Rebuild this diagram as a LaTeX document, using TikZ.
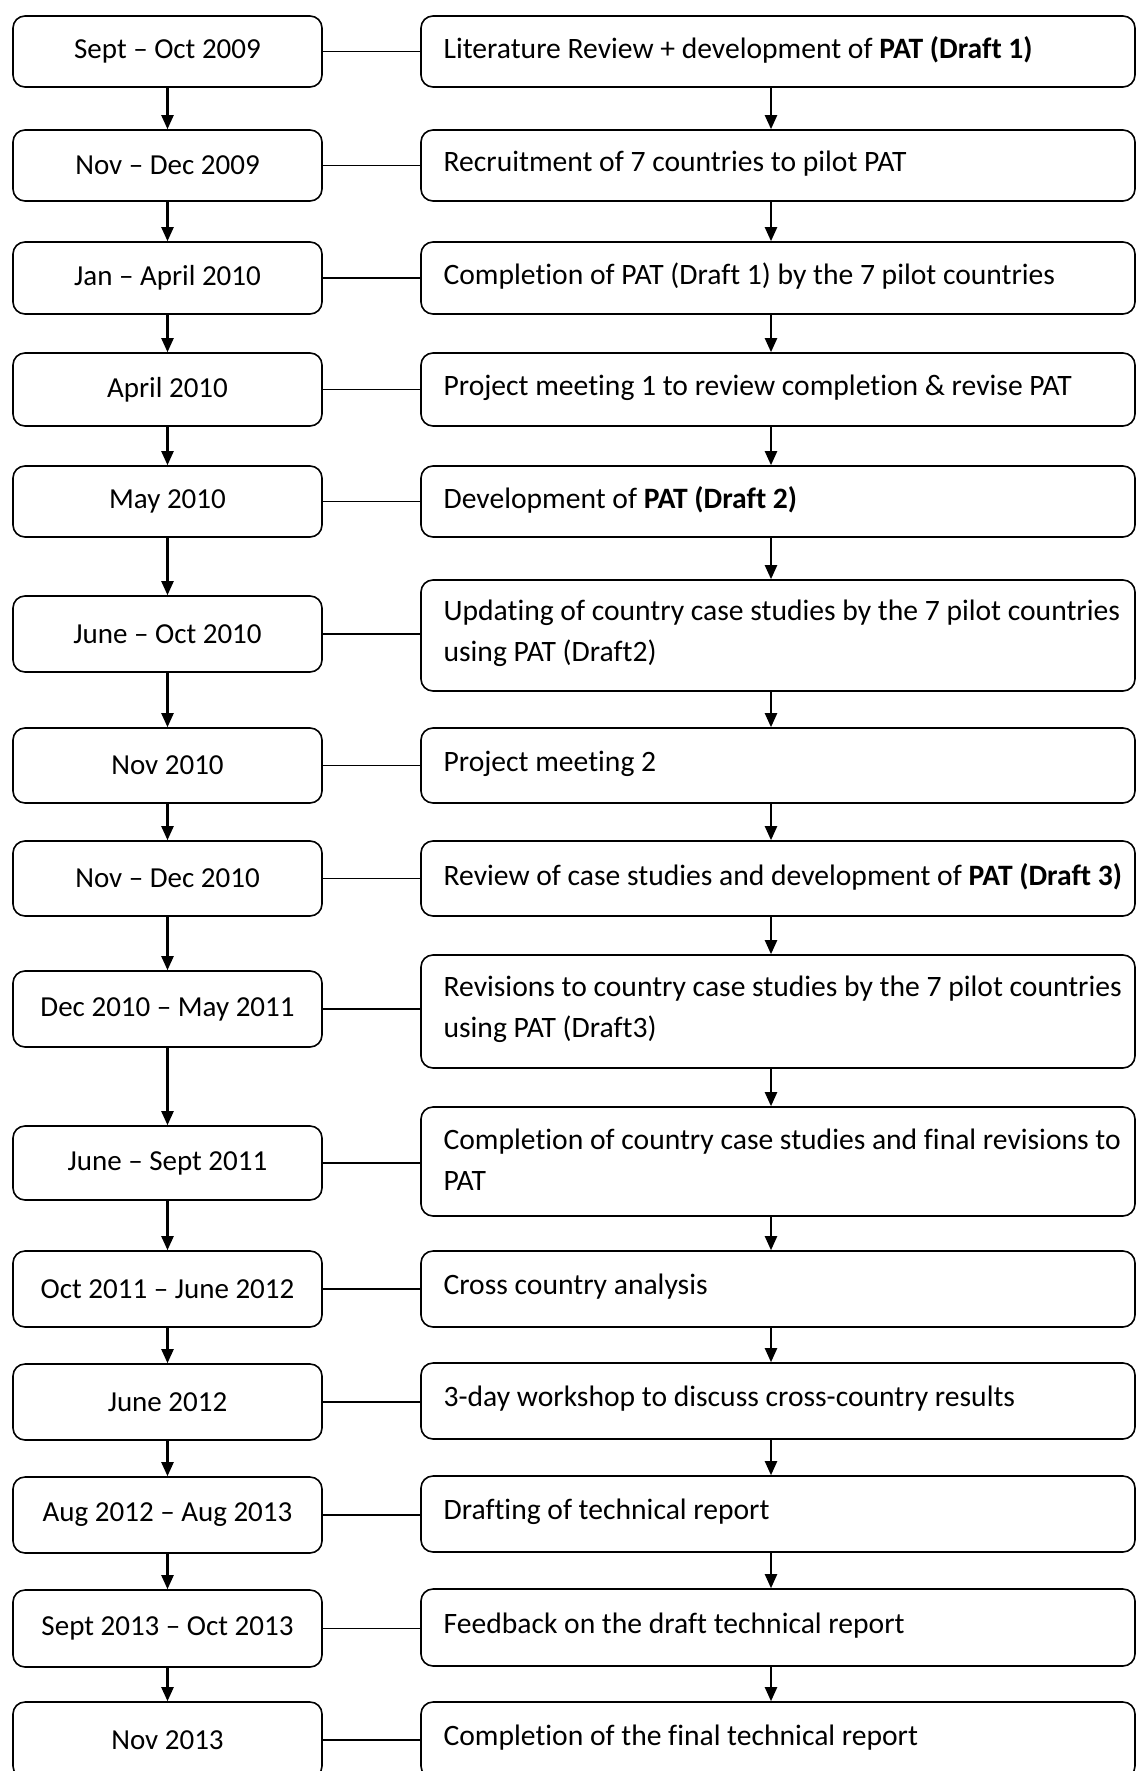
\documentclass[tikz,border=0pt]{standalone}
\usepackage{fontspec}
\setmainfont{Carlito}[Ligatures={NoCommon}]
\usetikzlibrary{arrows.meta}
\begin{document}
\begin{tikzpicture}[x=0.5pt,y=-0.5pt,
  lbox/.style={draw, line width=0.8pt, rounded corners=6pt, inner sep=0pt, minimum width=154.5pt, font=\fontsize{14.5}{20.3}\selectfont},
  rbox/.style={draw, line width=0.8pt, rounded corners=6pt, inner sep=0pt, minimum width=357pt},
  rtext/.style={anchor=west, align=left, inner sep=0pt, font=\fontsize{14.8}{20.4}\selectfont},
  link/.style={line width=0.85pt},
  flow/.style={line width=1.1pt, -{Triangle[width=6pt,length=7pt]}}]
\clip (0,0) rectangle (1136,1771);
\fill[white] (0,0) rectangle (1136,1771);
\coordinate (ax) at (771,0);
% left column
\node[lbox, minimum height=35.5pt] (l1) at (167.5,51.5) {Sept – Oct 2009};
\node[lbox, minimum height=35.5pt] (l2) at (167.5,165.5) {Nov – Dec 2009};
\node[lbox, minimum height=36pt] (l3) at (167.5,278) {Jan – April 2010};
\node[lbox, minimum height=36.5pt] (l4) at (167.5,389.5) {April 2010};
\node[lbox, minimum height=35.5pt] (l5) at (167.5,501.5) {May 2010};
\node[lbox, minimum height=38pt] (l6) at (167.5,634) {June – Oct 2010};
\node[lbox, minimum height=37.5pt] (l7) at (167.5,765.5) {Nov 2010};
\node[lbox, minimum height=37.5pt] (l8) at (167.5,878.5) {Nov – Dec 2010};
\node[lbox, minimum height=38pt] (l9) at (167.5,1009) {Dec 2010 – May 2011};
\node[lbox, minimum height=37pt] (l10) at (167.5,1163) {June – Sept 2011};
\node[lbox, minimum height=38pt] (l11) at (167.5,1289) {Oct 2011 – June 2012};
\node[lbox, minimum height=38pt] (l12) at (167.5,1402) {June 2012};
\node[lbox, minimum height=38pt] (l13) at (167.5,1515) {Aug 2012 – Aug 2013};
\node[lbox, minimum height=38.5pt] (l14) at (167.5,1628.5) {Sept 2013 – Oct 2013};
\node[lbox, minimum height=38pt] (l15) at (167.5,1740) {Nov 2013};
% right column boxes
\node[rbox, minimum height=35.5pt] (r1) at (778,51.5) {};
\node[rbox, minimum height=35.5pt] (r2) at (778,165.5) {};
\node[rbox, minimum height=36pt] (r3) at (778,278) {};
\node[rbox, minimum height=36.5pt] (r4) at (778,389.5) {};
\node[rbox, minimum height=35.5pt] (r5) at (778,501.5) {};
\node[rbox, minimum height=55.5pt] (r6) at (778,635.5) {};
\node[rbox, minimum height=37.5pt] (r7) at (778,765.5) {};
\node[rbox, minimum height=37.5pt] (r8) at (778,878.5) {};
\node[rbox, minimum height=56.5pt] (r9) at (778,1011.5) {};
\node[rbox, minimum height=54.5pt] (r10) at (778,1161.5) {};
\node[rbox, minimum height=38pt] (r11) at (778,1289) {};
\node[rbox, minimum height=38pt] (r12) at (778,1401) {};
\node[rbox, minimum height=38pt] (r13) at (778,1514) {};
\node[rbox, minimum height=38.5pt] (r14) at (778,1627.5) {};
\node[rbox, minimum height=38pt] (r15) at (778,1740) {};
% right column texts
\node[rtext] (t1) at ([xshift=11.5pt,yshift=1pt]r1.west) {Literature Review + development of \textbf{PAT (Draft 1)}};
\node[rtext] (t2) at ([xshift=11.5pt,yshift=1pt]r2.west) {Recruitment of 7 countries to pilot PAT};
\node[rtext] (t3) at ([xshift=11.5pt,yshift=1pt]r3.west) {Completion of PAT (Draft 1) by the 7 pilot countries};
\node[rtext] (t4) at ([xshift=11.5pt,yshift=1pt]r4.west) {Project meeting 1 to review completion \& revise PAT};
\node[rtext] (t5) at ([xshift=11.5pt,yshift=1pt]r5.west) {Development of \textbf{PAT (Draft 2)}};
\node[rtext] (t6) at ([xshift=11.5pt,yshift=1pt]r6.west) {Updating of country case studies by the 7 pilot countries\\using PAT (Draft2)};
\node[rtext] (t7) at ([xshift=11.5pt,yshift=1pt]r7.west) {Project meeting 2};
\node[rtext] (t8) at ([xshift=11.5pt,yshift=1pt]r8.west) {Review of case studies and development of \textbf{PAT (Draft 3)}};
\node[rtext] (t9) at ([xshift=11.5pt,yshift=1pt]r9.west) {Revisions to country case studies by the 7 pilot countries\\using PAT (Draft3)};
\node[rtext] (t10) at ([xshift=11.5pt,yshift=1pt]r10.west) {Completion of country case studies and final revisions to\\PAT};
\node[rtext] (t11) at ([xshift=11.5pt,yshift=1pt]r11.west) {Cross country analysis};
\node[rtext] (t12) at ([xshift=11.5pt,yshift=1pt]r12.west) {3-day workshop to discuss cross-country results};
\node[rtext] (t13) at ([xshift=11.5pt,yshift=1pt]r13.west) {Drafting of technical report};
\node[rtext] (t14) at ([xshift=11.5pt,yshift=1pt]r14.west) {Feedback on the draft technical report};
\node[rtext] (t15) at ([xshift=11.5pt,yshift=1pt]r15.west) {Completion of the final technical report};
% horizontal links
\foreach \i in {1,...,15} {
  \draw[link] (l\i.east) -- (l\i.east -| r\i.west);
}
% vertical arrows
\foreach \i [evaluate=\i as \j using int(\i+1)] in {1,...,14} {
  \draw[flow] (l\i.south) -- (l\j.north);
  \draw[flow] (r\i.south -| ax) -- (r\j.north -| ax);
}
\end{tikzpicture}
\end{document}
